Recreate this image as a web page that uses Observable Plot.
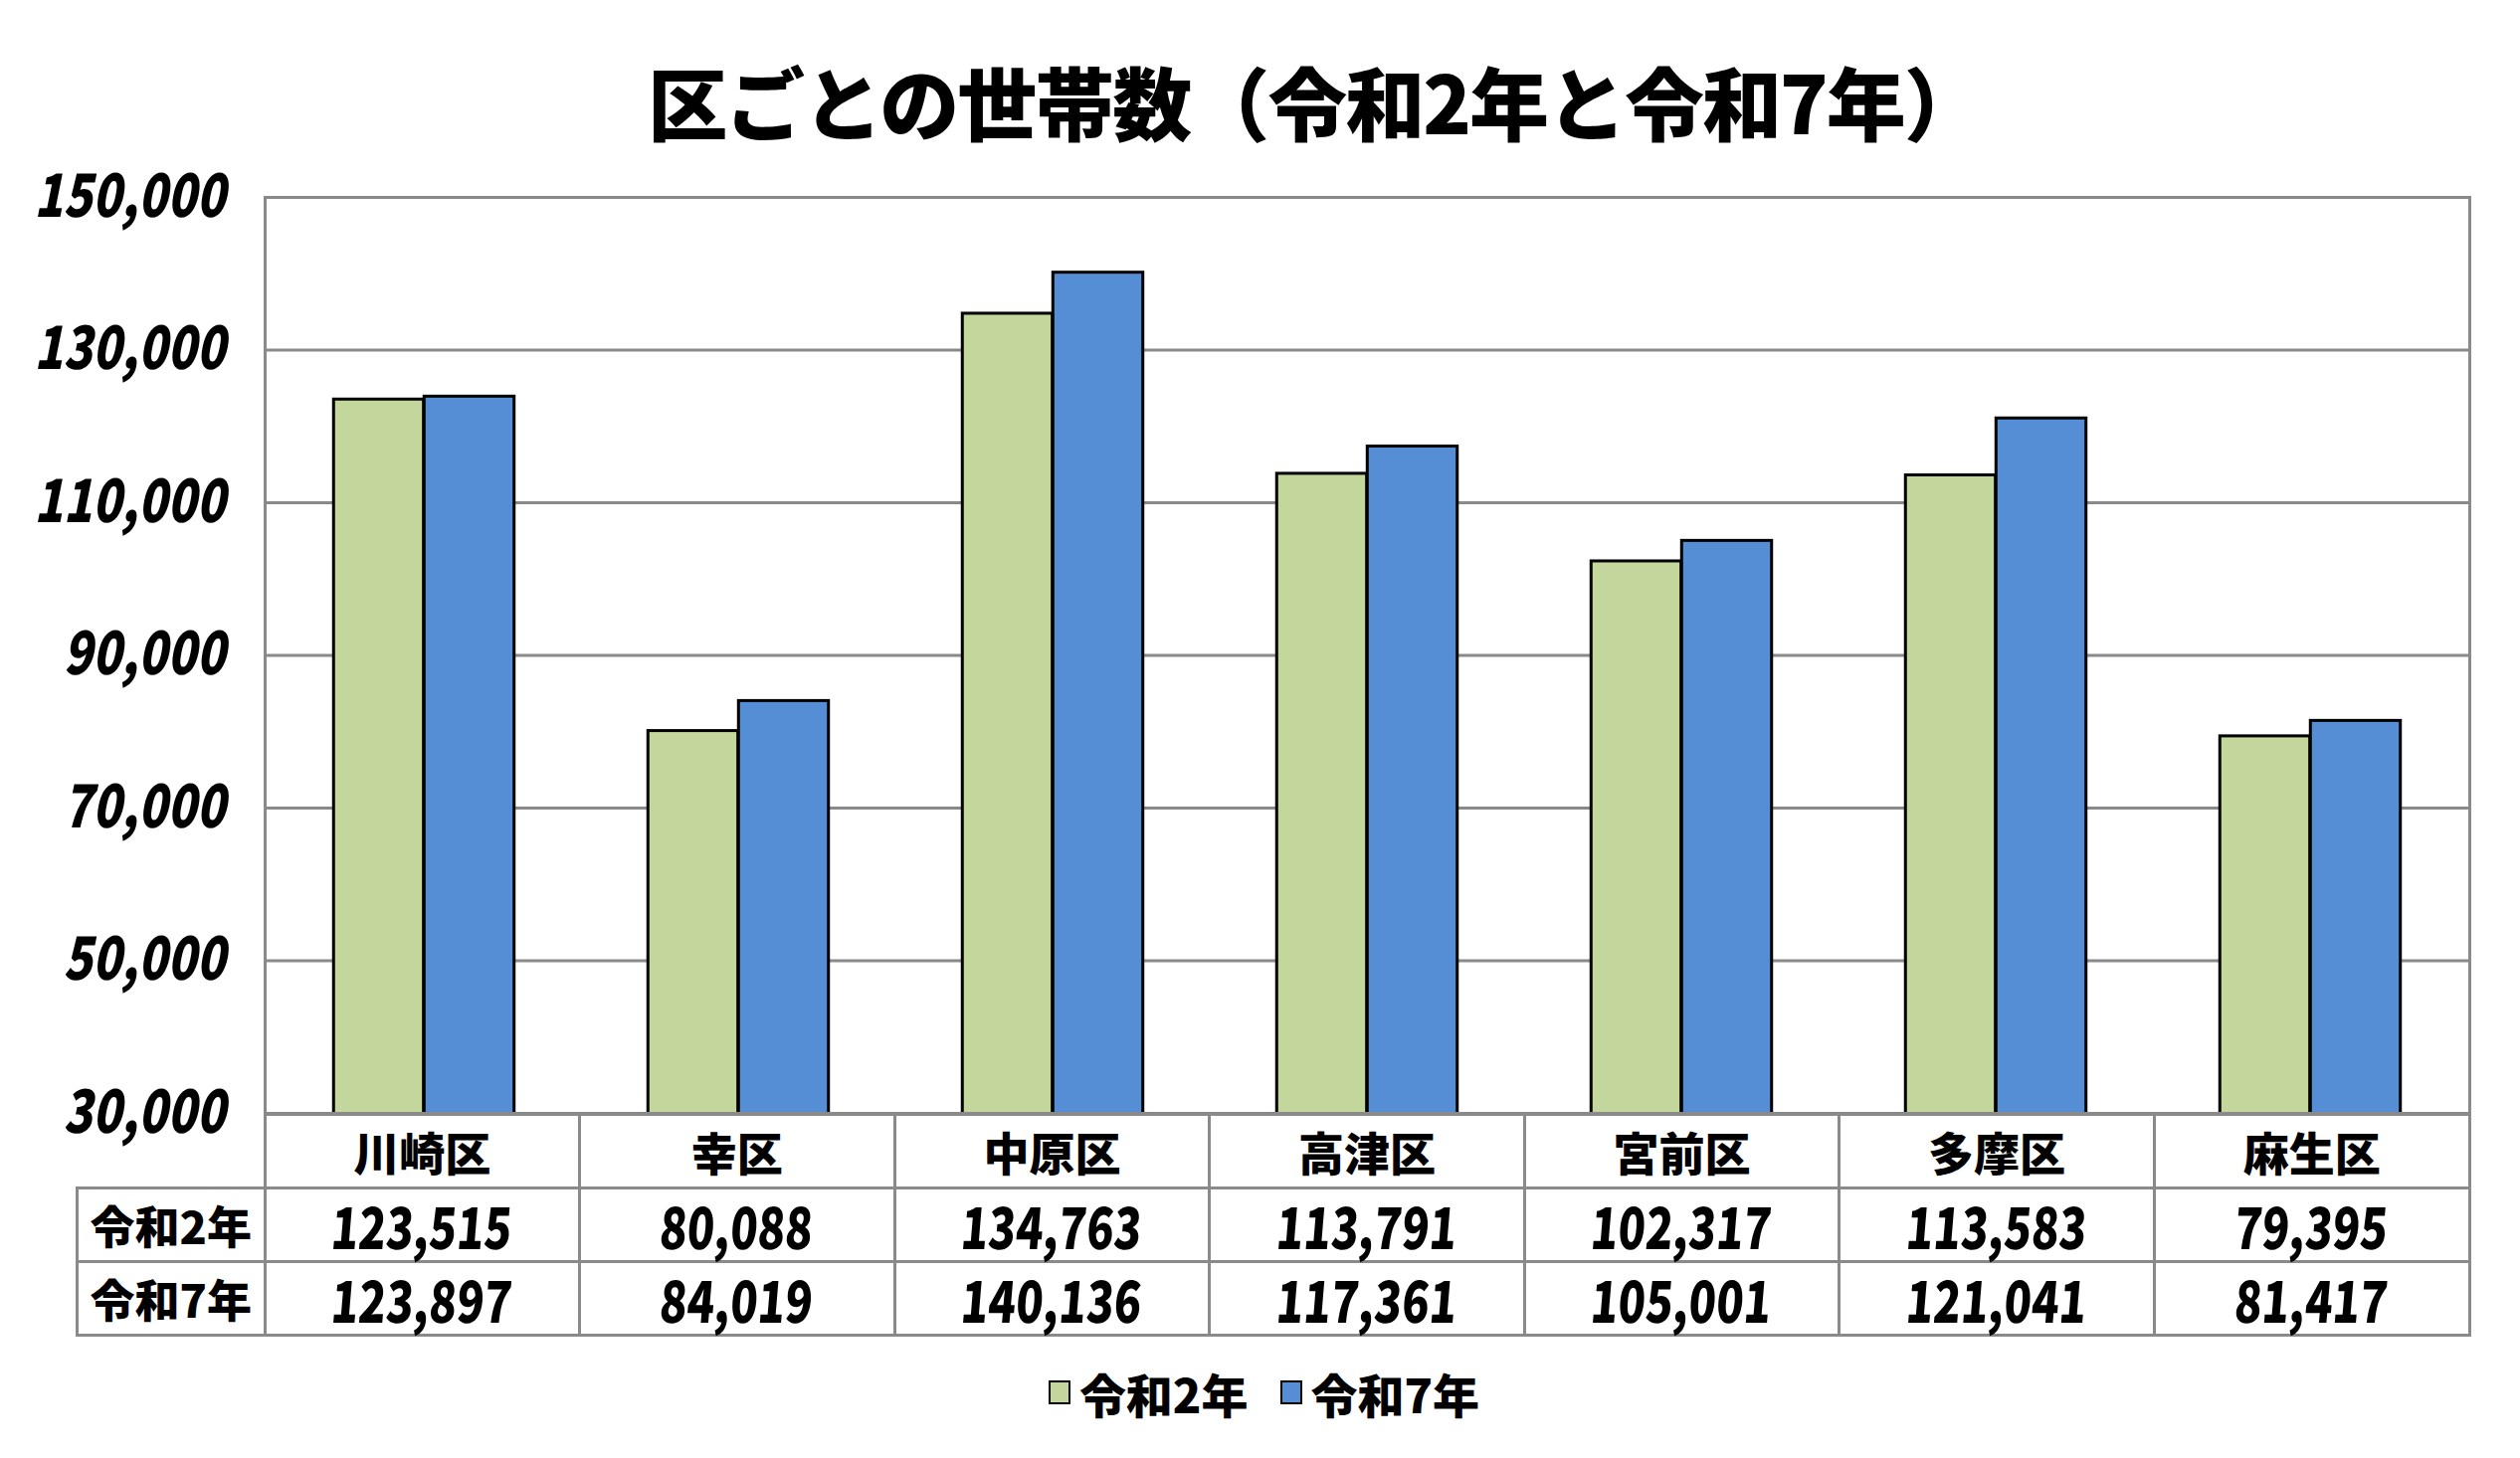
<!DOCTYPE html>
<html>
<head>
<meta charset="utf-8">
<script src="https://cdn.jsdelivr.net/npm/d3@7"></script>
<script src="https://cdn.jsdelivr.net/npm/@observablehq/plot@0.6"></script>
<style>
  html, body { margin: 0; padding: 0; background: #fff; }
  body { width: 2533px; height: 1466px; overflow: hidden; font-family: "Noto Sans CJK JP", "Noto Sans", sans-serif; font-weight: 900; color: #000; }
  #title { height: 120px; line-height: 120px; padding-top: 40px; text-align: center; font-size: 80px; font-weight: 900; padding-left: 110px; letter-spacing: -2px; }
  #chart svg { display: block; overflow: visible; }
  table { border-collapse: collapse; table-layout: fixed; margin-left: 76px; width: 2407.5px; }
  tr { height: 74px; }
  td { border: 3px solid #8a8a8a; text-align: center; padding: 0; line-height: 1.2; white-space: nowrap; }
  td.blank { border-top: none; border-left: none; }
  td.cat { font-size: 46px; }
  td.head { font-size: 45px; }
  td.num { font-size: 58px; }
  td.num span { display: inline-block; transform: scaleX(0.78) skewX(-6deg); }
  #legend { display: flex; justify-content: center; align-items: center; gap: 0; margin-top: 30px; padding-left: 8px; font-size: 47px; height: 52px; }
  .item { display: flex; align-items: center; margin: 0 16px; }
  .sw { width: 18px; height: 20px; border: 2px solid #000; margin-right: 9px; }
</style>
</head>
<body>
<div id="title"></div>
<div id="chart"></div>
<div id="tbl"></div>
<div id="legend"></div>
<script>
const titleText = "区ごとの世帯数（令和2年と令和7年）";
const districts = ["川崎区", "幸区", "中原区", "高津区", "宮前区", "多摩区", "麻生区"];
const seriesNames = ["令和2年", "令和7年"];
const valuesR2 = [123515, 80088, 134763, 113791, 102317, 113583, 79395];
const valuesR7 = [123897, 84019, 140136, 117361, 105001, 121041, 81417];
const seriesColors = ["#C3D69B", "#558ED5"];
const yTicks = [30000, 50000, 70000, 90000, 110000, 130000, 150000];

document.getElementById("title").textContent = titleText;

const fmt = d3.format(",");
const seriesValues = [valuesR2, valuesR7];

const W = 2533, H = 959;
const mL = 266, mR = 51, mT = 38, mB = 0;
const bandW = (W - mL - mR) / districts.length;
const barW = bandW * 0.2875;
const outer = (bandW - 2 * barW) / 2;

const rows = seriesNames.map((s, i) => districts.map((d, j) => ({district: d, series: s, value: seriesValues[i][j]})));

const plot = Plot.plot({
  width: W, height: H,
  marginLeft: mL, marginRight: mR, marginTop: mT, marginBottom: mB,
  style: {fontFamily: "'Noto Sans CJK JP', sans-serif", overflow: "visible", background: "transparent"},
  x: {domain: districts, padding: 0, axis: null},
  y: {domain: [yTicks[0], yTicks[yTicks.length - 1]]},
  marks: [
    Plot.gridY(yTicks, {stroke: "#8a8a8a", strokeOpacity: 1, strokeWidth: 3}),
    Plot.barY(rows[0], {x: "district", y: "value", fill: seriesColors[0], stroke: "#000", strokeWidth: 3,
      insetLeft: outer, insetRight: bandW - outer - barW, clip: true}),
    Plot.barY(rows[1], {x: "district", y: "value", fill: seriesColors[1], stroke: "#000", strokeWidth: 3,
      insetLeft: outer + barW, insetRight: outer, clip: true}),
    Plot.frame({stroke: "#8a8a8a", strokeWidth: 3}),
    Plot.axisY(yTicks, {tickSize: 0, tickPadding: 40, tickFormat: fmt, label: null, ariaLabel: "y-axis",
      fontSize: 60, fontWeight: 900, fill: "#000"})
  ]
});
document.getElementById("chart").appendChild(plot);
// condense the tick labels (the reference uses a narrow display face)
plot.querySelectorAll('g[aria-label="y-axis tick label"] text, g[aria-label="y-axis"] text').forEach(t => {
  const w = t.getComputedTextLength();
  t.setAttribute("textLength", (w * 0.8).toFixed(1));
  t.setAttribute("lengthAdjust", "spacingAndGlyphs");
  t.setAttribute("font-style", "italic");
});

// data table
const table = document.createElement("table");
const cg = document.createElement("colgroup");
const c0 = document.createElement("col"); c0.style.width = "188.5px"; cg.appendChild(c0);
districts.forEach(() => { const c = document.createElement("col"); c.style.width = bandW + "px"; cg.appendChild(c); });
table.appendChild(cg);
const tr0 = document.createElement("tr");
const blank = document.createElement("td"); blank.className = "blank"; tr0.appendChild(blank);
districts.forEach(d => { const td = document.createElement("td"); td.className = "cat"; td.textContent = d; tr0.appendChild(td); });
table.appendChild(tr0);
seriesNames.forEach((s, i) => {
  const tr = document.createElement("tr");
  const th = document.createElement("td"); th.className = "head"; th.textContent = s; tr.appendChild(th);
  seriesValues[i].forEach(v => {
    const td = document.createElement("td"); td.className = "num";
    const sp = document.createElement("span"); sp.textContent = fmt(v); td.appendChild(sp);
    tr.appendChild(td);
  });
  table.appendChild(tr);
});
document.getElementById("tbl").appendChild(table);

// legend
const lg = document.getElementById("legend");
seriesNames.forEach((s, i) => {
  const it = document.createElement("div"); it.className = "item";
  const sw = document.createElement("div"); sw.className = "sw"; sw.style.background = seriesColors[i];
  const tx = document.createElement("span"); tx.textContent = s;
  it.appendChild(sw); it.appendChild(tx); lg.appendChild(it);
});
</script>
</body>
</html>
